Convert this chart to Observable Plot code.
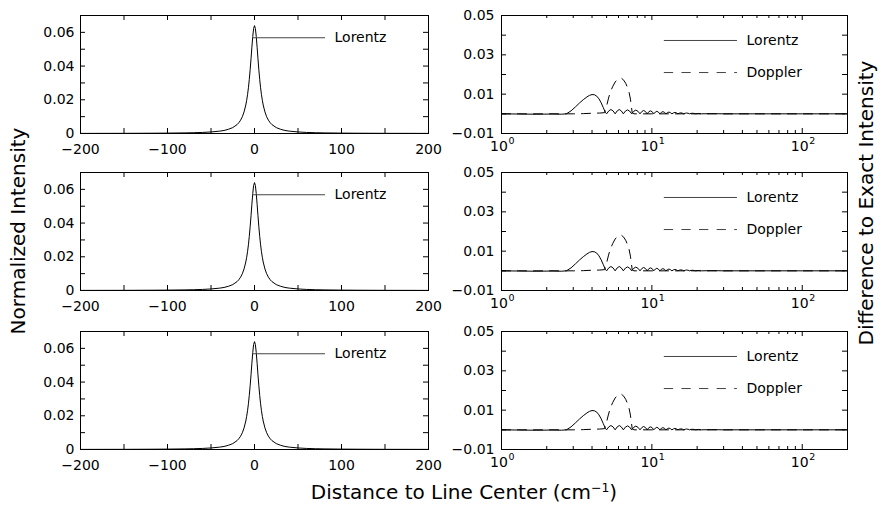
<!DOCTYPE html>
<html>
<head>
<meta charset="utf-8">
<script src="https://cdn.jsdelivr.net/npm/d3@7"></script>
<script src="https://cdn.jsdelivr.net/npm/@observablehq/plot@0.6"></script>
<style>
  body { margin: 0; background: #fff; }
  #fig { position: relative; width: 883px; height: 506px; font-family: "DejaVu Sans", sans-serif; color: #000; overflow: hidden; }
  #fig svg { overflow: visible; }
  .panel { position: absolute; }
  .title { position: absolute; font-size: 20px; white-space: nowrap; line-height: 1; }
  .title sup { font-size: 0.62em; vertical-align: 0.55em; line-height: 0; }
</style>
</head>
<body>
<div id="fig"></div>
<script>
// ---------- data ----------
// Left panels: normalized Lorentz profile vs distance to line center
const profileX = [-200,-150,-120,-100,-80,-70,-60,-50,-40,-35,-30,-25,-20,-18,-16,-14,-12,-10,-9,-8,-7,-6,-5,-4,-3,-2,-1,
  0,1,2,3,4,5,6,7,8,9,10,12,14,16,18,20,25,30,35,40,50,60,70,80,100,120,150,200];
const profileY = [0.00006,0.0001,0.00016,0.00023,0.00036,0.00047,0.00063,0.00091,0.0014,0.0018,0.0025,0.0035,0.0053,0.0064,0.0079,0.0099,0.0128,0.0169,0.0197,0.0230,0.0271,0.0320,0.0378,0.0443,0.0512,0.0576,0.0623,
  0.0640,0.0623,0.0576,0.0512,0.0443,0.0378,0.0320,0.0271,0.0230,0.0197,0.0169,0.0128,0.0099,0.0079,0.0064,0.0053,0.0035,0.0025,0.0018,0.0014,0.00091,0.00063,0.00047,0.00036,0.00023,0.00016,0.0001,0.00006];

// Right panels: difference to exact intensity (log distance)
const lorentzDiffX = [1,1.3,1.7,2.2,2.5,2.7,2.9,3.1,3.3,3.5,3.7,3.85,4.0,4.15,4.3,4.45,4.6,4.75,4.9,
  5.0,5.17,5.34,5.52,5.7,5.88,6.07,6.26,6.46,6.67,6.89,7.11,7.34,7.58,7.82,8.08,8.34,8.58,8.81,9.06,9.31,
  9.55,9.79,10.04,10.3,10.55,10.79,11.04,11.3,11.57,11.84,12.12,12.4,12.69,12.99,13.29,13.6,13.92,14.24,14.56,14.9,
  15.24,15.58,15.94,16.3,16.67,17.03,17.41,17.8,18.2,18.63,19.06,19.5,20.4,21.3,25,30,50,100,200];
const lorentzDiffY = [0,-0.0001,-0.0002,-0.0001,-0.0002,0,0.0015,0.0035,0.0055,0.0072,0.0086,0.0094,0.0098,0.0097,0.0090,0.0076,0.0056,0.0032,0.0008,
  0,0.0015,0.0022,0.0015,0,0.0015,0.0022,0.0015,0,0.0014,0.0020,0.0014,0,0.0013,0.0019,0.0013,0,0.0012,0.0017,0.0012,0,
  0.0011,0.0015,0.0011,0,0.0009,0.0013,0.0009,0,0.0008,0.0011,0.0008,0,0.0006,0.0009,0.0006,0,0.0005,0.0007,0.0005,0,
  0.00035,0.0005,0.00035,0,0.0003,0.0004,0.0003,0,0.0002,0.0003,0.0002,0,0.0002,0,0.0001,0,0,0,0];
const dopplerDiffX = [1,2,3,3.5,4,4.5,4.85,5.0,5.15,5.3,5.5,5.7,5.9,6.1,6.3,6.5,6.7,6.9,7.05,7.2,7.3,7.4,7.6,10,20,50,100,200];
const dopplerDiffY = [0,0,0,0.0001,0.0003,0.0004,0.0006,0.004,0.008,0.0112,0.014,0.0162,0.0175,0.0181,0.018,0.0171,0.0155,0.0132,0.011,0.0075,0.004,0.0005,0,0,0,0,0,0];

// ticks and labels
const leftXTicks = [-200,-150,-100,-50,0,50,100,150,200];
const leftXLabels = [-200,-100,0,100,200];
const leftYTicks = [0,0.01,0.02,0.03,0.04,0.05,0.06,0.07];
const leftYLabels = [0,0.02,0.04,0.06];
const rightXMajor = [1,10,100];
const rightXExponents = ["0","1","2"];
const rightXMinor = [2,3,4,5,6,7,8,9,20,30,40,50,60,70,80,90,200];
const rightYTicks = [-0.01,0,0.01,0.02,0.03,0.04,0.05];
const rightYLabels = [-0.01,0.01,0.03,0.05];
const legendNames = ["Lorentz","Doppler"];
const xTitle = "Distance to Line Center (cm";
const yTitleLeft = "Normalized Intensity";
const yTitleRight = "Difference to Exact Intensity";

// ---------- build ----------
const profile = profileX.map((x, i) => ({x, y: profileY[i]}));
const lorentzDiff = lorentzDiffX.map((x, i) => ({x, y: lorentzDiffY[i]}));
const dopplerDiff = dopplerDiffX.map((x, i) => ({x, y: dopplerDiffY[i]}));

const fmtSigned = d => (d < 0 ? "\u2212" : "") + Math.abs(d);
const fmtDec = d => d === 0 ? "0" : (d < 0 ? "\u2212" : "") + Math.abs(d).toFixed(2);
const baseStyle = {fontFamily: "DejaVu Sans", fontSize: "14px", overflow: "visible", background: "transparent", color: "black"};

function leftPanel() {
  const fw = 348, fh = 118;
  return Plot.plot({
    width: 440, height: 158, marginLeft: 80, marginRight: 12, marginTop: 15, marginBottom: 25,
    style: baseStyle,
    x: {domain: [-200, 200], axis: null},
    y: {domain: [0, 0.07], axis: null},
    marks: [
      Plot.line(profile, {x: "x", y: "y", stroke: "black", strokeWidth: 1}),
      Plot.tickX(leftXTicks, {x: d => d, insetTop: fh - 5, stroke: "black"}),
      Plot.tickX(leftXTicks, {x: d => d, insetBottom: fh - 5, stroke: "black"}),
      Plot.tickY(leftYTicks, {y: d => d, insetRight: fw - 5, stroke: "black"}),
      Plot.tickY(leftYTicks, {y: d => d, insetLeft: fw - 5, stroke: "black"}),
      Plot.axisX(leftXLabels, {tickSize: 0, tickPadding: 11, tickFormat: fmtSigned, label: null, fontSize: 14}),
      Plot.axisY(leftYLabels, {tickSize: 0, tickPadding: 6, tickFormat: fmtDec, label: null, fontSize: 14}),
      Plot.ruleY([0.0568], {y: d => d, x1: -2.3, x2: 81.6, stroke: "#444", strokeWidth: 1}),
      Plot.text([legendNames[0]], {x: 92, y: 0.0568, text: d => d, textAnchor: "start", fontSize: 14, fill: "black"}),
      Plot.frame({stroke: "black"})
    ]
  });
}

function rightPanel() {
  const fw = 346, fh = 118;
  return Plot.plot({
    width: 443, height: 158, marginLeft: 61, marginRight: 36, marginTop: 15, marginBottom: 25,
    style: baseStyle,
    x: {type: "log", domain: [1, 200], axis: null},
    y: {domain: [-0.01, 0.05], axis: null},
    marks: [
      Plot.line(dopplerDiff, {x: "x", y: "y", stroke: "black", strokeWidth: 1, strokeDasharray: "9,7"}),
      Plot.line(lorentzDiff, {x: "x", y: "y", stroke: "black", strokeWidth: 1}),
      Plot.tickX(rightXMajor, {x: d => d, insetTop: fh - 5, stroke: "black"}),
      Plot.tickX(rightXMajor, {x: d => d, insetBottom: fh - 5, stroke: "black"}),
      Plot.tickX(rightXMinor, {x: d => d, insetTop: fh - 3, stroke: "black"}),
      Plot.tickX(rightXMinor, {x: d => d, insetBottom: fh - 3, stroke: "black"}),
      Plot.tickY(rightYTicks, {y: d => d, insetRight: fw - 5, stroke: "black"}),
      Plot.tickY(rightYTicks, {y: d => d, insetLeft: fw - 5, stroke: "black"}),
      Plot.axisY(rightYLabels, {tickSize: 0, tickPadding: 7, tickFormat: fmtDec, label: null, fontSize: 14}),
      Plot.text(rightXMajor, {x: d => d, text: () => "10", frameAnchor: "bottom", dy: 17, dx: -2.5, fontSize: 14, fill: "black"}),
      Plot.text(rightXMajor, {x: d => d, text: (d, i) => rightXExponents[i], frameAnchor: "bottom", dy: 10, dx: 7, textAnchor: "start", fontSize: 9.5, fill: "black"}),
      Plot.ruleY([0.0373], {y: d => d, x1: 12.1, x2: 37.1, stroke: "#444", strokeWidth: 1}),
      Plot.ruleY([0.021], {y: d => d, x1: 12.1, x2: 37.1, stroke: "#444", strokeWidth: 1, strokeDasharray: "9.3,8.3"}),
      Plot.text([legendNames[0]], {x: 42.6, y: 0.0373, text: d => d, textAnchor: "start", fontSize: 14, fill: "black"}),
      Plot.text([legendNames[1]], {x: 42.6, y: 0.021, text: d => d, textAnchor: "start", fontSize: 14, fill: "black"}),
      Plot.frame({stroke: "black"})
    ]
  });
}

const fig = document.getElementById("fig");
const rowTops = [0, 157, 316];
for (const top of rowTops) {
  const l = document.createElement("div");
  l.className = "panel"; l.style.left = "0px"; l.style.top = top + "px";
  l.appendChild(leftPanel());
  fig.appendChild(l);
  const r = document.createElement("div");
  r.className = "panel"; r.style.left = "440px"; r.style.top = top + "px";
  r.appendChild(rightPanel());
  fig.appendChild(r);
}

function addTitle(html, left, top, rotate) {
  const d = document.createElement("div");
  d.className = "title";
  d.innerHTML = html;
  d.style.left = left + "px";
  d.style.top = top + "px";
  d.style.transform = "translate(-50%,-50%)" + (rotate ? " rotate(-90deg)" : "");
  fig.appendChild(d);
}
addTitle(yTitleLeft, 18, 231, true);
addTitle(yTitleRight, 866, 203, true);
addTitle(xTitle + "<sup>\u22121</sup>)", 464, 492, false);
</script>
</body>
</html>
